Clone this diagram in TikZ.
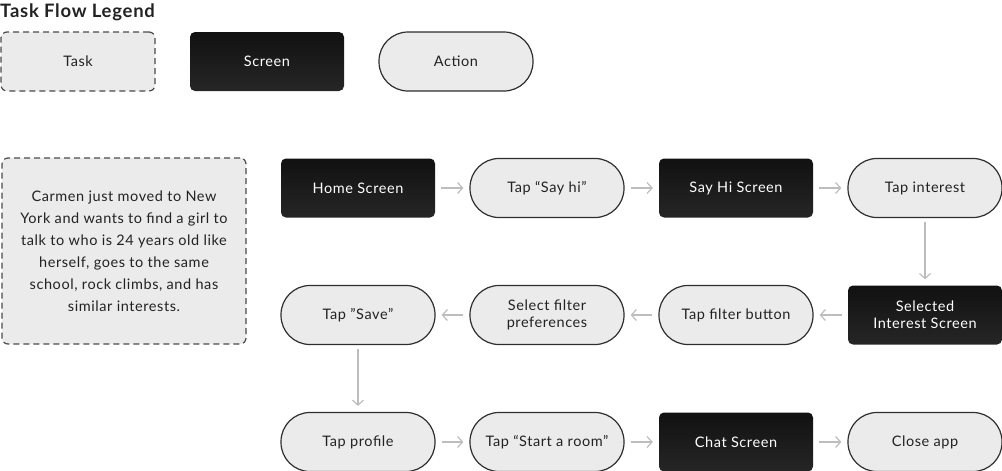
\documentclass[tikz,border=0pt]{standalone}
\usepackage{fontspec}
\setmainfont{Lato}[LetterSpace=4]
\usetikzlibrary{positioning,arrows.meta}

\definecolor{boxgray}{HTML}{EBEBEB}
\definecolor{edgedark}{HTML}{2E2E2E}
\definecolor{edgedash}{HTML}{4A4A4A}
\definecolor{txtdark}{HTML}{222222}
\definecolor{scrtop}{HTML}{111111}
\definecolor{scrbottom}{HTML}{262626}
\definecolor{arrowgray}{HTML}{BDBDBD}

\begin{document}
\begin{tikzpicture}[%
    x=1pt, y=-1pt,                  % One unit is one pixel of the layout
    >={Straight Barb[length=5pt,width=11pt]}, % Light open arrow tips
    node distance=127pt and 189pt,  % Grid of rows and columns
    font=\fontsize{14.5}{17}\selectfont,
    ]
% -------------------------------------------------
% Box styles for the three kinds of step
\tikzset{
  base/.style={on grid, align=center, minimum width=154pt, minimum height=59pt, inner sep=0pt},
  taskbox/.style={base, draw=edgedash, fill=boxgray, dash pattern=on 6pt off 4pt,
    rounded corners=6pt, line width=1.2pt, text=txtdark},
  screenbox/.style={base, top color=scrtop, bottom color=scrbottom,
    rounded corners=5pt, text=white},
  actionbox/.style={base, draw=edgedark, fill=boxgray, rounded corners=29pt,
    line width=1.2pt, text=txtdark},
  % Connector style
  flow/.style={->, draw=arrowgray, line width=1.2pt, shorten >=6pt, shorten <=6pt},
  title/.style={font=\fontsize{18.5}{20}\selectfont\bfseries, text=txtdark, inner sep=0pt}
}
\useasboundingbox (0,0) rectangle (1002,471);
% -------------------------------------------------
% Legend
\node [title, anchor=west] (legend) at (0,12) {Task Flow Legend};
\node [taskbox] (legTask) at (78,61.5) {Task};
\node [screenbox, right=189pt of legTask] (legScreen) {Screen};
\node [actionbox, right=189pt of legScreen] (legAction) {Action};

% -------------------------------------------------
% The story of the task
\node [taskbox, minimum width=244pt, minimum height=186pt,
       font=\fontsize{14.5}{22}\selectfont] (story) at (124,251)
  {Carmen just moved to New\\York and wants to find a girl to\\talk to who is 24 years old like\\
   herself, goes to the same\\school, rock climbs, and has\\similar interests.};

% -------------------------------------------------
% First row, left to right
\node [screenbox] (home) at (358,188) {Home Screen};
\node [actionbox, right=of home] (sayHi) {Tap \textquotedblleft Say hi\textquotedblright};
\node [screenbox, right=of sayHi] (sayHiScr) {Say Hi Screen};
\node [actionbox, right=of sayHiScr] (interest) {Tap interest};

% Second row, right to left
\node [screenbox, below=of interest] (selInterest) {Selected\\Interest Screen};
\node [actionbox, left=of selInterest] (filterBtn) {Tap filter button};
\node [actionbox, left=of filterBtn] (filterPref) {Select filter\\preferences};
\node [actionbox, left=of filterPref] (save) {Tap \symbol{"22}Save\symbol{"22}};

% Third row, left to right
\node [actionbox, below=of save] (profile) {Tap profile};
\node [actionbox, right=of profile] (room) {Tap \textquotedblleft Start a room\textquotedblright};
\node [screenbox, right=of room] (chat) {Chat Screen};
\node [actionbox, right=of chat] (close) {Close app};

% -------------------------------------------------
% Connectors
\draw [flow] (home) -- (sayHi);
\draw [flow] (sayHi) -- (sayHiScr);
\draw [flow] (sayHiScr) -- (interest);
\draw [flow, shorten <=4pt] (interest) -- (selInterest);
\draw [flow] (selInterest) -- (filterBtn);
\draw [flow] (filterBtn) -- (filterPref);
\draw [flow] (filterPref) -- (save);
\draw [flow, shorten <=4pt] (save) -- (profile);
\draw [flow] (profile) -- (room);
\draw [flow] (room) -- (chat);
\draw [flow] (chat) -- (close);
\end{tikzpicture}
\end{document}
